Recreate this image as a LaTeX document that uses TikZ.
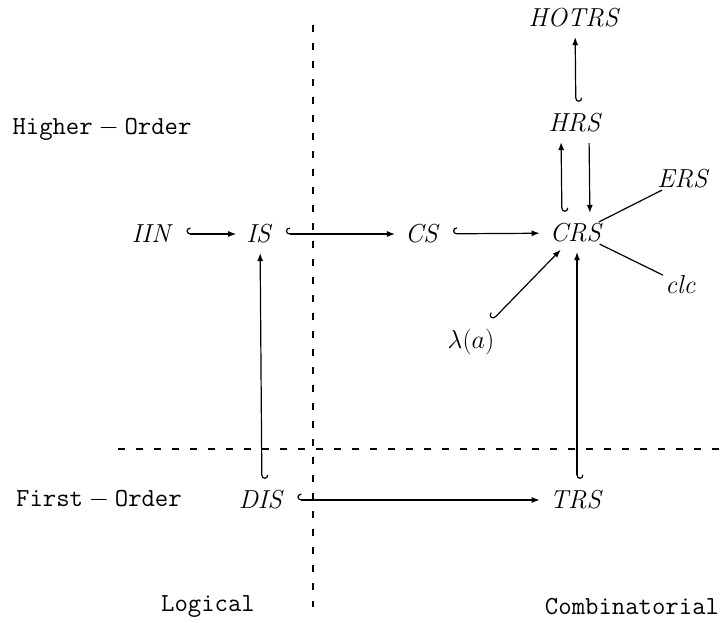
\RequirePackage{fix-cm}
\documentclass[tikz,border=0pt]{standalone}
\usetikzlibrary{arrows.meta}
\tikzset{
  hookup/.tip={Hooks[arc=180,width=13pt,length=4pt,right]},
  hookdown/.tip={Hooks[arc=180,width=13pt,length=4pt,left]},
  headtip/.tip={Latex[length=8pt,width=6pt]}
}
\begin{document}
\begin{tikzpicture}[x=1pt,y=-1pt,
  sysnode/.style={inner sep=2pt, font=\fontsize{26}{31}\selectfont},
  sidelabel/.style={inner sep=0pt, font=\fontsize{26}{31}\selectfont\ttfamily},
  conn/.style={line width=1.2pt},
  divider/.style={line width=1.1pt, dash pattern=on 7pt off 11pt},
  hka/.style={conn, hookup-headtip, shorten <=10pt, shorten >=8pt},
  hkb/.style={conn, hookdown-headtip, shorten <=10pt, shorten >=8pt},
  plain/.style={conn, -headtip, shorten <=9pt, shorten >=9pt}
]
\useasboundingbox (0,0) rectangle (726,623);

% division lines
\coordinate (vtop) at (313,25);
\coordinate (vbot) at (313,607);
\coordinate (hleft) at (118,449);
\coordinate (hright) at (724,449);
\draw[divider] (vtop) -- (vbot);
\draw[divider] (hleft) -- (hright);

% systems
\node[sysnode] (HOTRS) at (575,18) {$\mathit{HOTRS}$};
\node[sysnode] (HRS) at (576,123) {$\mathit{HRS}$};
\node[sysnode] (ERS) at (684,179) {$\mathit{ERS}$};
\node[sysnode] (IIN) at (153,234) {$\mathit{IIN}$};
\node[sysnode] (IS) at (260,234) {$\mathit{IS}$};
\node[sysnode] (CS) at (423,234) {$\mathit{CS}$};
\node[sysnode] (CRS) at (577,233) {$\mathit{CRS}$};
\node[sysnode] (clc) at (681,284) {$\mathit{clc}$};
\node[sysnode] (lam) at (471,342) {$\lambda(a)$};
\node[sysnode] (DIS) at (262,500) {$\mathit{DIS}$};
\node[sysnode] (TRS) at (577,500) {$\mathit{TRS}$};

% region labels
\node[sidelabel] (higher) at (102,129) {$\mathtt{Higher}-\mathtt{Order}$};
\node[sidelabel] (first) at (99,500) {$\mathtt{First}-\mathtt{Order}$};
\node[sidelabel] (logical) at (208,607) {Logical};
\node[sidelabel] (comb) at (632,607) {Combinatorial};

% embeddings
\draw[hka] (IIN) -- (IS);
\draw[hka] (IS) -- (CS);
\draw[hka] (CS) -- (CRS);
\draw[hka] (DIS) -- (TRS);
\draw[hkb] (DIS) -- (IS);
\draw[hkb] (TRS) -- (CRS);
\draw[hkb] ([xshift=-15pt]CRS.north) -- ([xshift=-15pt]HRS.south);
\draw[hkb] (HRS) -- (HOTRS);
\draw[hka] (lam) -- (CRS);
\draw[plain] ([xshift=13pt]HRS.south) -- ([xshift=13pt]CRS.north);

% plain links
\draw[conn] (CRS) -- (ERS);
\draw[conn] (CRS) -- (clc);
\end{tikzpicture}
\end{document}
